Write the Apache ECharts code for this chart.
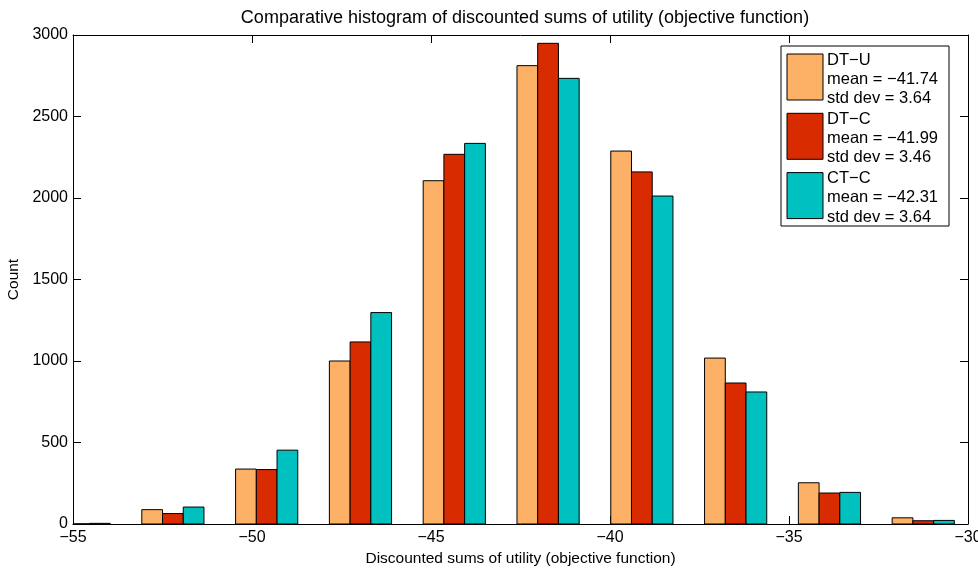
<!DOCTYPE html>
<html>
<head>
<meta charset="utf-8">
<script src="https://cdn.jsdelivr.net/npm/echarts@6/dist/echarts.min.js"></script>
<style>
html,body{margin:0;padding:0;background:#fff;}
#chart{width:978px;height:568px;}
</style>
</head>
<body>
<div id="chart"></div>
<script>
// Histogram bin centers (x values)
const binCenters = [-54.83, -52.21, -49.59, -46.97, -44.35, -41.73, -39.11, -36.49, -33.87, -31.25];
// Counts per series
const dtU = [2, 88, 337, 1000, 2106, 2812, 2288, 1018, 253, 38];
const dtC = [1, 64, 334, 1117, 2268, 2949, 2160, 865, 190, 20];
const ctC = [4, 104, 453, 1297, 2335, 2734, 2012, 810, 194, 22];
const seriesNames = ['DT−U', 'DT−C', 'CT−C'];
const seriesMeans = ['−41.74', '−41.99', '−42.31'];
const seriesStd = ['3.64', '3.46', '3.64'];
const xTicks = [-55, -50, -45, -40, -35, -30];
const yTicks = [0, 500, 1000, 1500, 2000, 2500, 3000];

const colors = ['#FDB166', '#D92B00', '#00C0C0'];
const barW = 0.579; // bar width in data units
const FONT = 'Liberation Sans, Arial, Helvetica, sans-serif';
const FS = 16;

const chart = echarts.init(document.getElementById('chart'), null, {renderer: 'canvas'});

function makeSeries(idx, values) {
  return {
    type: 'custom',
    name: seriesNames[idx],
    xAxisIndex: 0,
    yAxisIndex: 0,
    data: binCenters.map((c, i) => [c, values[i]]),
    renderItem: function (params, api) {
      const c = api.value(0);
      const v = api.value(1);
      const x0 = c + (idx - 1.5) * barW;
      const x1 = x0 + barW;
      const p0 = api.coord([x0, 0]);
      const p1 = api.coord([x1, v]);
      const rect = {
        x: p0[0], y: p1[1],
        width: p1[0] - p0[0], height: p0[1] - p1[1]
      };
      const cs = params.coordSys;
      const clipped = echarts.graphic.clipRectByRect(rect, {
        x: cs.x, y: cs.y - 2, width: cs.width, height: cs.height + 2
      });
      if (!clipped) return null;
      return {
        type: 'rect',
        shape: clipped,
        style: {fill: colors[idx], stroke: '#000', lineWidth: 1}
      };
    },
    z: 2
  };
}

// legend graphic
const legendItems = [];
const lgX = 781, lgY = 46;
legendItems.push({
  type: 'rect', shape: {x: lgX, y: lgY, width: 168, height: 180},
  style: {fill: '#fff', stroke: '#000', lineWidth: 1}, z: 10
});
for (let i = 0; i < 3; i++) {
  const top = 54 + i * 59.3;
  legendItems.push({
    type: 'rect', shape: {x: 787, y: top, width: 36, height: 46},
    style: {fill: colors[i], stroke: '#000', lineWidth: 1}, z: 11
  });
  const lines = [seriesNames[i], 'mean = ' + seriesMeans[i], 'std dev = ' + seriesStd[i]];
  lines.forEach((t, j) => {
    legendItems.push({
      type: 'text', x: 827, y: top + 6 + j * 19.3,
      style: {text: t, fill: '#000', font: '16.5px ' + FONT, textVerticalAlign: 'middle', textAlign: 'left'},
      z: 11
    });
  });
}

const fmt = v => String(v).replace('-', '−');

chart.setOption({
  animation: false,
  backgroundColor: '#fff',
  title: {
    text: 'Comparative histogram of discounted sums of utility (objective function)',
    left: 520, top: 4, textAlign: 'center',
    textStyle: {fontFamily: FONT, fontSize: 18, fontWeight: 'normal', color: '#000'}
  },
  grid: {left: 73, right: 10, top: 35, bottom: 44, containLabel: false, outerBoundsMode: 'none'},
  xAxis: [{
    type: 'value', min: xTicks[0], max: xTicks[xTicks.length - 1], interval: 5,
    position: 'bottom',
    name: 'Discounted sums of utility (objective function)',
    nameLocation: 'middle', nameGap: 26,
    nameTextStyle: {fontFamily: FONT, fontSize: 15.5, color: '#000'},
    axisLine: {show: true, onZero: false, lineStyle: {color: '#000', width: 1}},
    axisTick: {show: true, inside: true, length: 8, lineStyle: {color: '#000'}},
    axisLabel: {fontFamily: FONT, fontSize: FS, color: '#000', margin: 6, formatter: fmt},
    splitLine: {show: false}
  }, {
    type: 'value', min: xTicks[0], max: xTicks[xTicks.length - 1], interval: 5,
    position: 'top',
    axisLine: {show: true, onZero: false, lineStyle: {color: '#000', width: 1}},
    axisTick: {show: true, inside: true, length: 8, lineStyle: {color: '#000'}},
    axisLabel: {show: false},
    splitLine: {show: false}
  }],
  yAxis: [{
    type: 'value', min: yTicks[0], max: yTicks[yTicks.length - 1], interval: 500,
    position: 'left',
    name: 'Count', nameLocation: 'middle', nameGap: 42, nameRotate: 90,
    nameTextStyle: {fontFamily: FONT, fontSize: 15.5, color: '#000'},
    axisLine: {show: true, onZero: false, lineStyle: {color: '#000', width: 1}},
    axisTick: {show: true, inside: true, length: 8, lineStyle: {color: '#000'}},
    axisLabel: {fontFamily: FONT, fontSize: FS, color: '#000', margin: 5, formatter: v => String(v)},
    splitLine: {show: false}
  }, {
    type: 'value', min: yTicks[0], max: yTicks[yTicks.length - 1], interval: 500,
    position: 'right',
    axisLine: {show: true, onZero: false, lineStyle: {color: '#000', width: 1}},
    axisTick: {show: true, inside: true, length: 8, lineStyle: {color: '#000'}},
    axisLabel: {show: false},
    splitLine: {show: false}
  }],
  series: [makeSeries(0, dtU), makeSeries(1, dtC), makeSeries(2, ctC)],
  graphic: legendItems
});
</script>
</body>
</html>
